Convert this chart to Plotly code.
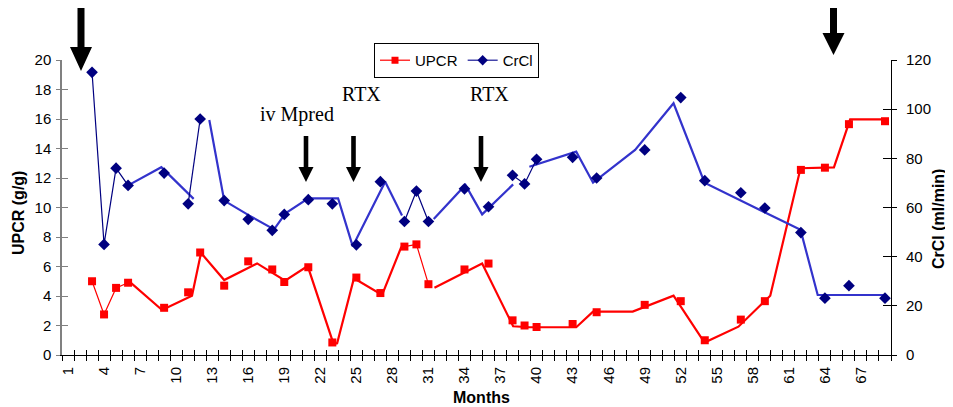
import plotly.graph_objects as go

# ---------------- data (months are category positions 1..69) ----------------
month_labels = [1, 4, 7, 10, 13, 16, 19, 22, 25, 28, 31, 34, 37, 40, 43, 46, 49, 52, 55, 58, 61, 64, 67]

upcr_months = [3, 4, 5, 6, 9, 11, 12, 14, 16, 18, 19, 21, 23, 25, 27, 29, 30, 31, 34, 36,
               38, 39, 40, 43, 45, 49, 52, 54, 57, 59, 62, 64, 66, 69]
upcr_values = [5.0, 2.75, 4.55, 4.9, 3.2, 4.25, 6.95, 4.7, 6.35, 5.8, 4.95, 5.95, 0.85, 5.25, 4.2,
               7.35, 7.5, 4.8, 5.8, 6.2, 2.35, 2.0, 1.9, 2.1, 2.9, 3.4, 3.65, 1.0, 2.4, 3.65,
               12.55, 12.7, 15.65, 15.85]

crcl_months = [3, 4, 5, 6, 9, 11, 12, 14, 16, 18, 19, 21, 23, 25, 27, 29, 30, 31, 34, 36,
               38, 39, 40, 43, 45, 49, 52, 54, 57, 59, 62, 64, 66, 69]
crcl_values = [115, 45, 76, 69, 74, 61.5, 96, 62.8, 55.2, 50.7, 57.2, 63.2, 61.5, 44.8, 70.5,
               54.3, 66.7, 54.3, 67.6, 60.3, 73.1, 69.6, 79.6, 80.4, 72.0, 83.4, 104.7, 70.9,
               66.0, 59.8, 49.8, 23.1, 28.2, 23.1]

# trend lines (drawn separately in the original, slightly offset from the markers)
upcr_line_x = [6.02, 8.83, 11.32, 12.07, 14.0, 16.74, 19.07, 20.95, 23.1, 23.4, 24.8, 27.14, 28.75, None,
               31.5, 35.47, 38.05, 39.4, 43.3, 44.7, 48.0, 51.4, 53.98, 56.8, 59.45, 61.97, 64.75, 66.1, 68.9]
upcr_line_y = [5.04, 3.05, 4.02, 6.92, 5.08, 6.21, 5.04, 6.03, 0.75, 0.8, 5.2, 4.07, 7.34, None,
               4.56, 6.21, 1.95, 1.88, 1.88, 2.94, 2.94, 4.02, 0.84, 1.92, 4.02, 12.66, 12.72, 15.98, 15.98]

upcr_thin_x = [3, 4, 5, 6, None, 29, 30, 31]
upcr_thin_y = [5.0, 2.75, 4.55, 4.9, None, 7.35, 7.5, 4.8]

crcl_line_x = [6.08, 8.77, 11.46, None,
               12.76, 14.0, 16.1, 18.15, 19.1, 21.0, 23.48, 24.7, 27.4, 28.8, None,
               31.44, 34.08, 35.47, 38.05, None,
               39.4, 43.3, 44.7, 48.2, 51.4, 53.98, 61.97, 63.4, 68.9]
crcl_line_y = [69.2, 76.4, 63.5, None,
               95.6, 62.8, 56.7, 51.1, 57.6, 63.7, 63.7, 44.2, 70.5, 56.7, None,
               55.3, 69.2, 57.2, 69.4, None,
               76.6, 82.7, 70.1, 83.4, 102.4, 70.1, 50.9, 24.4, 24.4]

crcl_thin_x = [3, 4, 5, 6, None, 11, 12, None, 29, 30, 31, None, 38, 39, 40]
crcl_thin_y = [115, 45, 76, 69, None, 61.5, 96, None, 54.3, 66.7, 54.3, None, 73.1, 69.6, 79.6]

# ---------------- layout geometry (reference pixel frame) ----------------
OFF = 8                      # page body margin offset
W, H = 953 - OFF, 407 - OFF
PL, PR, PT, PB = 62, 891, 60, 355   # plot area in reference pixels
PW, PH = PR - PL, PB - PT
L, T = PL - OFF, PT - OFF
R, B = W - (PR - OFF), H - (PB - OFF)


def px(xp):
    return (xp - PL) / PW


def py(yp):
    return (PB - yp) / PH


def arrow(cx, top, head, tip, sw, hw):
    pts = [(cx - sw, top), (cx + sw, top), (cx + sw, head), (cx + hw, head), (cx, tip),
           (cx - hw, head), (cx - sw, head)]
    return "M " + " L ".join(f"{px(a):.5f},{py(b):.5f}" for a, b in pts) + " Z"


RED = "#FF0000"
NAVY = "#000080"
BLUE = "#3333CC"

fig = go.Figure()

# UPCR
fig.add_trace(go.Scatter(x=upcr_line_x, y=upcr_line_y, mode="lines", line=dict(color=RED, width=2.2),
                         showlegend=False, connectgaps=False, hoverinfo="skip"))
fig.add_trace(go.Scatter(x=upcr_thin_x, y=upcr_thin_y, mode="lines", line=dict(color=RED, width=1.2),
                         showlegend=False, connectgaps=False, hoverinfo="skip"))
fig.add_trace(go.Scatter(x=upcr_months, y=upcr_values, mode="markers",
                         marker=dict(symbol="square", size=8, color=RED), showlegend=False))
# CrCl
fig.add_trace(go.Scatter(x=crcl_line_x, y=crcl_line_y, mode="lines", line=dict(color=BLUE, width=2.2),
                         showlegend=False, connectgaps=False, yaxis="y2", hoverinfo="skip"))
fig.add_trace(go.Scatter(x=crcl_thin_x, y=crcl_thin_y, mode="lines", line=dict(color=NAVY, width=1.2),
                         showlegend=False, connectgaps=False, yaxis="y2", hoverinfo="skip"))
fig.add_trace(go.Scatter(x=crcl_months, y=crcl_values, mode="markers",
                         marker=dict(symbol="diamond", size=9, color=NAVY), showlegend=False, yaxis="y2"))

# legend proxies
fig.add_trace(go.Scatter(x=[None], y=[None], mode="lines+markers", name="UPCR",
                         line=dict(color="#FF3333", width=1.5), marker=dict(symbol="square", size=7, color=RED)))
fig.add_trace(go.Scatter(x=[None], y=[None], mode="lines+markers", name="CrCl",
                         line=dict(color="#4444AA", width=1.5), marker=dict(symbol="diamond", size=8, color=NAVY),
                         yaxis="y2"))

# dummy traces for the overlay tick axes
for xa, ya in [("x2", "y"), ("x3", "y"), ("x", "y3"), ("x", "y4")]:
    fig.add_trace(go.Scatter(x=[None], y=[None], xaxis=xa, yaxis=ya, showlegend=False, hoverinfo="skip"))

xr = [0.5, 69.5]
tickfont = dict(family="Liberation Sans, Arial", size=15, color="black")

shapes = [
    dict(type="path", xref="paper", yref="paper", path=arrow(81, 5, 47, 71, 3.5, 11),
         fillcolor="black", line=dict(width=0)),
    dict(type="path", xref="paper", yref="paper", path=arrow(833.5, 0, 33, 55, 3.5, 11),
         fillcolor="black", line=dict(width=0)),
    dict(type="path", xref="paper", yref="paper", path=arrow(306, 136, 167, 182, 2.3, 7.5),
         fillcolor="black", line=dict(width=0)),
    dict(type="path", xref="paper", yref="paper", path=arrow(353.5, 136, 167, 182, 2.3, 7.5),
         fillcolor="black", line=dict(width=0)),
    dict(type="path", xref="paper", yref="paper", path=arrow(481, 136, 167, 182, 2.3, 7.5),
         fillcolor="black", line=dict(width=0)),
]

serif = dict(family="Liberation Serif, Times New Roman", size=20, color="black")
bold = dict(family="Liberation Sans, Arial", size=16, color="black")


def note(text, x, y, font, angle=0):
    return dict(text=text, x=px(x), y=py(y), xref="paper", yref="paper", showarrow=False, font=font,
                xanchor="center", yanchor="middle", textangle=angle)


annotations = [
    note("iv Mpred", 297, 114, serif),
    note("RTX", 361, 94, serif),
    note("RTX", 489, 94, serif),
    note("<b>Months</b>", 481, 397, bold),
    note("<b>UPCR (g/g)</b>", 18, 213, bold, -90),
    note("<b>CrCl (ml/min)</b>", 939, 219, bold, -90),
]

fig.update_layout(
    width=W, height=H,
    margin=dict(l=L, r=R, t=T, b=B, autoexpand=False),
    plot_bgcolor="white", paper_bgcolor="white",
    font=dict(family="Liberation Sans, Arial", size=15, color="black"),
    showlegend=True,
    legend=dict(orientation="h", x=px(374), y=py(43), xanchor="left", yanchor="top",
                bordercolor="black", borderwidth=1, bgcolor="white",
                font=dict(family="Liberation Sans, Arial", size=15, color="black"),
                itemwidth=30, tracegroupgap=0),
    xaxis=dict(range=xr, showgrid=False, zeroline=False, showline=True, linecolor="black", linewidth=1,
               ticks="outside", ticklen=5, tickcolor="black", tickmode="linear", tick0=0.5, dtick=1,
               showticklabels=False, anchor="y"),
    xaxis2=dict(range=xr, overlaying="x", anchor="y", side="bottom", showgrid=False, zeroline=False,
                showline=False, ticks="inside", ticklen=5, tickcolor="black", tickmode="linear",
                tick0=0.5, dtick=1, showticklabels=False),
    xaxis3=dict(range=xr, overlaying="x", anchor="y", side="bottom", showgrid=False, zeroline=False,
                showline=False, ticks="outside", ticklen=5, tickcolor="rgba(0,0,0,0)",
                tickmode="array", tickvals=month_labels, ticktext=[str(m) for m in month_labels],
                tickangle=-90, tickfont=tickfont),
    yaxis=dict(range=[0, 20], tickmode="linear", tick0=0, dtick=2, showgrid=False, zeroline=False,
               showline=True, linecolor="#808080", linewidth=1.5, ticks="outside", ticklen=4,
               tickcolor="#808080", tickfont=tickfont, ticklabelstandoff=2, anchor="x"),
    yaxis3=dict(range=[0, 20], overlaying="y", side="left", anchor="x", tickmode="linear", tick0=0, dtick=2,
                showgrid=False, zeroline=False, showline=False, ticks="inside", ticklen=6,
                tickcolor="#808080", showticklabels=False),
    yaxis2=dict(range=[0, 120], overlaying="y", side="right", anchor="x", tickmode="linear", tick0=0,
                dtick=20, showgrid=False, zeroline=False, showline=True, linecolor="black", linewidth=1,
                ticks="outside", ticklen=5, tickcolor="black", tickfont=tickfont, ticklabelstandoff=6),
    yaxis4=dict(range=[0, 120], overlaying="y", side="right", anchor="x", tickmode="linear", tick0=0,
                dtick=20, showgrid=False, zeroline=False, showline=False, ticks="inside", ticklen=8,
                tickcolor="black", showticklabels=False),
    shapes=shapes,
    annotations=annotations,
)

fig.write_html("out.html")
